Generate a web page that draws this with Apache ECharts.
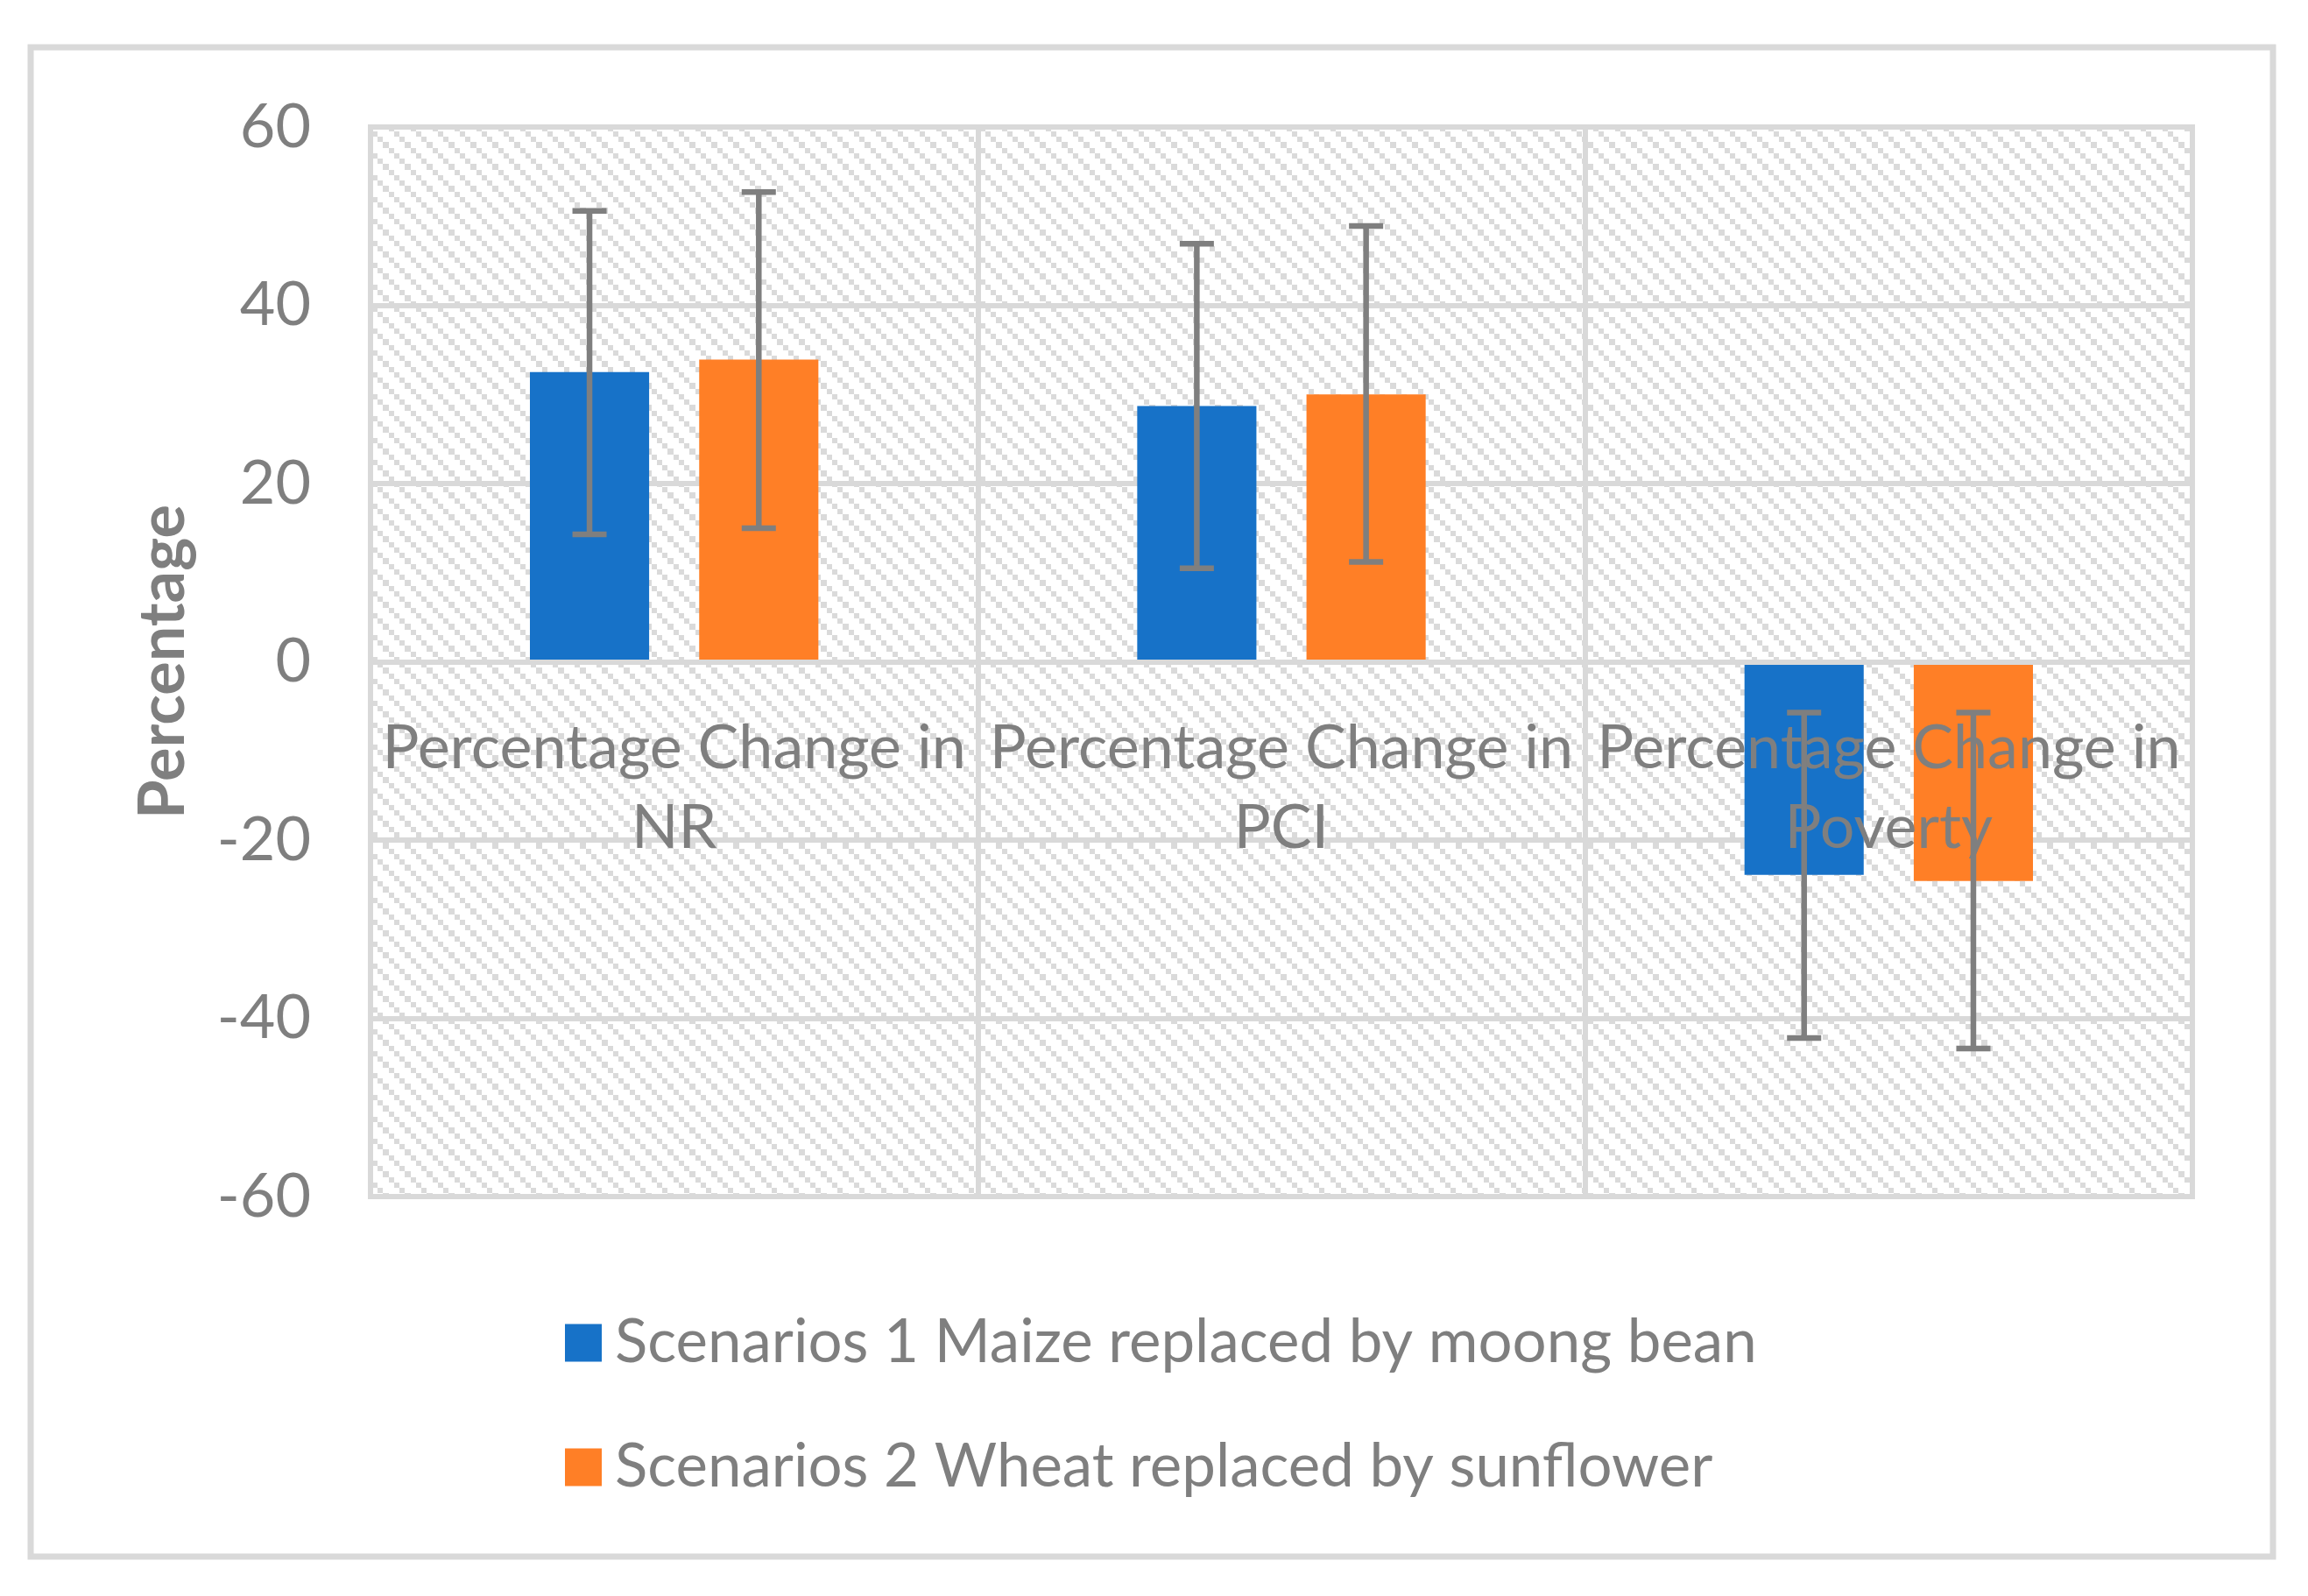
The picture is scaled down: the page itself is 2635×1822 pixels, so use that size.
<!DOCTYPE html>
<html>
<head>
<meta charset="utf-8">
<script src="https://cdn.jsdelivr.net/npm/echarts@6/dist/echarts.min.js"></script>
<style>
html,body{margin:0;padding:0;background:#fff;}
#chart{width:2635px;height:1822px;}
</style>
</head>
<body>
<div id="chart"></div>
<script>
const categories = ['Percentage Change in NR', 'Percentage Change in PCI', 'Percentage Change in Poverty'];
const seriesNames = ['Scenarios 1 Maize replaced by moong bean', 'Scenarios 2 Wheat replaced by sunflower'];
const scenario1 = [32.5, 28.7, -23.9];
const scenario2 = [33.9, 30.0, -24.6];
const scenario1Low = [14.3, 10.5, -42.2];
const scenario1High = [50.6, 46.9, -5.7];
const scenario2Low = [15.0, 11.2, -43.4];
const scenario2High = [52.7, 48.9, -5.7];
const yTicks = [-60, -40, -20, 0, 20, 40, 60];

const FONT = 'Lato';
const TEXT = '#7f7f7f';
const GRID = '#d9d9d9';
const CAT_GAP = 0.525;
const BAR_GAP = 0.42;
const GRID_TOP = 145, GRID_H = 1221;

// hatch pattern for the plot area
const tile = document.createElement('canvas');
tile.width = 25; tile.height = 25;
const tc = tile.getContext('2d');
tc.fillStyle = '#ffffff';
tc.fillRect(0, 0, 25, 25);
tc.fillStyle = '#dadada';
[[0,0,6,6],[6,6,6,6],[12,12,7,7],[19,19,6,6]].forEach(r => tc.fillRect(r[0], r[1], r[2], r[3]));

function errData(lo, hi) {
  return categories.map((c, i) => [i, lo[i], hi[i]]);
}

function makeErr(sign) {
  return function (params, api) {
    const idx = api.value(0);
    const lo = api.coord([idx, api.value(1)]);
    const hi = api.coord([idx, api.value(2)]);
    const band = api.size([1, 0])[0];
    const bw = band * (1 - CAT_GAP) / (2 + BAR_GAP);
    const x = lo[0] + sign * bw * (1 + BAR_GAP) / 2;
    const cap = 19.5;
    const style = { stroke: '#7f7f7f', lineWidth: 6.5 };
    return {
      type: 'group',
      children: [
        { type: 'line', shape: { x1: x, y1: lo[1], x2: x, y2: hi[1] }, style: style },
        { type: 'line', shape: { x1: x - cap, y1: lo[1], x2: x + cap, y2: lo[1] }, style: style },
        { type: 'line', shape: { x1: x - cap, y1: hi[1], x2: x + cap, y2: hi[1] }, style: style }
      ]
    };
  };
}

const yMin = yTicks[0], yMax = yTicks[yTicks.length - 1];
// distance of the zero line above the grid bottom, so the category axis sits on zero
const zeroOffset = -GRID_H * (0 - yMin) / (yMax - yMin);

const chart = echarts.init(document.getElementById('chart'), null, { renderer: 'canvas' });
chart.setOption({
  backgroundColor: '#ffffff',
  animation: false,
  textStyle: { fontFamily: FONT, color: TEXT },
  graphic: [{
    type: 'rect',
    shape: { x: 35, y: 54, width: 2560, height: 1723 },
    style: { fill: 'none', stroke: GRID, lineWidth: 7 },
    z: -10
  }],
  grid: {
    left: 423, top: GRID_TOP, width: 2080, height: GRID_H,
    show: true,
    backgroundColor: { image: tile, repeat: 'repeat' },
    borderColor: GRID, borderWidth: 6
  },
  legend: {
    orient: 'vertical',
    left: 640, top: 1493,
    data: seriesNames,
    icon: 'rect',
    itemWidth: 42, itemHeight: 43,
    itemGap: 72,
    textStyle: { fontFamily: FONT, fontSize: 69, color: TEXT, lineHeight: 70, padding: [0, 0, 0, 10] }
  },
  xAxis: {
    type: 'category',
    data: categories,
    z: 3,
    position: 'bottom',
    offset: zeroOffset,
    axisLine: { onZero: false, lineStyle: { color: GRID, width: 6 } },
    axisTick: { show: false },
    splitLine: { show: true, lineStyle: { color: GRID, width: 6 } },
    axisLabel: {
      interval: 0,
      fontFamily: FONT, fontSize: 70, color: TEXT, lineHeight: 91, margin: 53,
      formatter: v => v.replace(' in ', ' in\n')
    }
  },
  yAxis: {
    type: 'value',
    min: yMin, max: yMax, interval: 20,
    name: 'Percentage',
    nameLocation: 'middle',
    nameRotate: 90,
    nameGap: 200,
    nameTextStyle: { fontFamily: FONT, fontSize: 72, fontWeight: 'bold', color: TEXT },
    axisLine: { show: false },
    axisTick: { show: false },
    splitLine: { show: true, lineStyle: { color: GRID, width: 6 } },
    axisLabel: { fontFamily: FONT, fontSize: 70, color: TEXT, margin: 68 }
  },
  series: [
    { name: seriesNames[0], type: 'bar', data: scenario1, itemStyle: { color: '#1772c8' },
      barGap: (BAR_GAP * 100) + '%', barCategoryGap: (CAT_GAP * 100) + '%', z: 2 },
    { name: seriesNames[1], type: 'bar', data: scenario2, itemStyle: { color: '#ff7f26' },
      barGap: (BAR_GAP * 100) + '%', barCategoryGap: (CAT_GAP * 100) + '%', z: 2 },
    { name: 'err1', type: 'custom', data: errData(scenario1Low, scenario1High),
      encode: { x: 0, y: [1, 2] }, renderItem: makeErr(-1), z: 5, silent: true },
    { name: 'err2', type: 'custom', data: errData(scenario2Low, scenario2High),
      encode: { x: 0, y: [1, 2] }, renderItem: makeErr(1), z: 5, silent: true }
  ]
});
</script>
</body>
</html>
